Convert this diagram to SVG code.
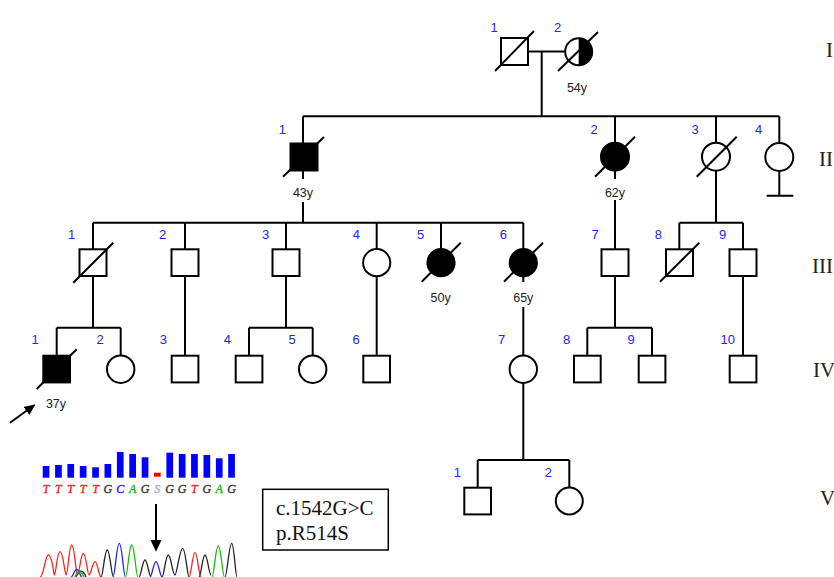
<svg xmlns="http://www.w3.org/2000/svg" width="834" height="577" viewBox="0 0 834 577">
<style>
.ln{stroke:#000;stroke-width:2;fill:none}
.o{fill:#fff;stroke:#000;stroke-width:2}
.f{fill:#000;stroke:#000;stroke-width:2}
.sl{stroke:#000;stroke-width:2}
.num{font-family:"Liberation Sans",Arial,sans-serif;font-size:13px;fill:#2525ee;text-anchor:middle}
.age{font-family:"Liberation Sans",Arial,sans-serif;font-size:12.5px;fill:#222;text-anchor:middle}
.gen{font-family:"Liberation Serif","Times New Roman",serif;font-size:21px;fill:#222}
.box{font-family:"Liberation Serif","Times New Roman",serif;font-size:21px;fill:#111}
.seq{font-family:"Liberation Serif","Times New Roman",serif;font-size:12px;font-style:italic;text-anchor:middle;stroke-width:0.35}
.bar{fill:#0000ff}
.tr{fill:none;stroke-width:1.3}
</style>
<defs>
<marker id="ah" markerWidth="11" markerHeight="10" refX="10" refY="5" orient="auto" markerUnits="userSpaceOnUse"><path d="M0,0 L11,5 L0,10 z" fill="#000"/></marker>
</defs>
<rect width="834" height="577" fill="#fff"/>

<g id="connectors" class="ln">
<path d="M528 51.5H565M541.7 51.5V116.3"/>
<path d="M303 116.3H779.3M303 116.3V143.5M615 116.3V143M716 116.3V143M779.3 116.3V143"/>
<path d="M779.3 171V195.7M766.7 195.7H793.3"/>
<path d="M303 170.7V179M303 202V222.7M93 222.7H523.3"/>
<path d="M93 222.7V249.3M185 222.7V249.3M286 222.7V249.3M376.7 222.7V249.3M441 222.7V249.3M523.3 222.7V249.3"/>
<path d="M615 170.7V179M615 200V249.3"/>
<path d="M716 170.7V222.7M679.3 222.7H743M679.3 222.7V249.3M743 222.7V249.3"/>
<path d="M93 276V327.7M56.7 327.7H120.7M56.7 327.7V355.7M120.7 327.7V355.5"/>
<path d="M185 276V355.7"/>
<path d="M286 276V327.7M249 327.7H312.7M249 327.7V355.7M312.7 327.7V355.5"/>
<path d="M376.7 276.2V355.7"/>
<path d="M523.3 276.2V282M523.3 307V355.5"/>
<path d="M615 276V327.7M587.3 327.7H652M587.3 327.7V355.7M652 327.7V355.7"/>
<path d="M743 276V355.7"/>
<path d="M523.3 382.7V460M477.7 460H569.3M477.7 460V487.7M569.3 460V487.5"/>
</g>

<g id="I-1"><rect class="o" x="501" y="38" width="27" height="27"/><line class="sl" x1="495" y1="71" x2="534" y2="31"/><text class="num" x="494" y="31.5">1</text></g>
<g id="I-2"><circle class="o" cx="578.7" cy="51.7" r="13.5"/><path d="M578.7 38.2A13.5 13.5 0 0 1 578.7 65.2Z" fill="#000"/><line class="sl" x1="558" y1="71" x2="598" y2="32"/><text class="num" x="557.7" y="31.5">2</text><text class="age" x="577" y="91.5">54y</text></g>

<g id="II-1"><rect class="f" x="290.5" y="143.5" width="27" height="27"/><line class="sl" x1="283" y1="176.7" x2="324" y2="137"/><text class="num" x="282.3" y="133.5">1</text><text class="age" x="303" y="196.5">43y</text></g>
<g id="II-2"><circle class="f" cx="615" cy="156.7" r="14"/><line class="sl" x1="595" y1="176.7" x2="635" y2="136.7"/><text class="num" x="594" y="133.5">2</text><text class="age" x="615" y="196.5">62y</text></g>
<g id="II-3"><circle class="o" cx="716" cy="156.7" r="14"/><line class="sl" x1="696.7" y1="176.7" x2="736.7" y2="136.7"/><text class="num" x="695" y="133.5">3</text></g>
<g id="II-4"><circle class="o" cx="779.3" cy="157" r="14"/><text class="num" x="758.7" y="133.5">4</text></g>

<g id="III-1"><rect class="o" x="79.5" y="249.3" width="27" height="26.7"/><line class="sl" x1="73.3" y1="282.7" x2="113.3" y2="242.7"/><text class="num" x="71.7" y="238.5">1</text></g>
<g id="III-2"><rect class="o" x="171.5" y="249.3" width="27" height="26.7"/><text class="num" x="162.7" y="238.5">2</text></g>
<g id="III-3"><rect class="o" x="272.5" y="249.3" width="27" height="26.7"/><text class="num" x="265.7" y="238.5">3</text></g>
<g id="III-4"><circle class="o" cx="376.7" cy="262.7" r="13.6"/><text class="num" x="356.3" y="238.5">4</text></g>
<g id="III-5"><circle class="f" cx="441" cy="262.7" r="13.6"/><line class="sl" x1="421.7" y1="281.7" x2="460.7" y2="242.7"/><text class="num" x="420.7" y="238.5">5</text><text class="age" x="440.7" y="301.5">50y</text></g>
<g id="III-6"><circle class="f" cx="523.3" cy="262.7" r="13.6"/><line class="sl" x1="504" y1="281.7" x2="543" y2="242.7"/><text class="num" x="503.3" y="238.5">6</text><text class="age" x="523.3" y="301.5">65y</text></g>
<g id="III-7"><rect class="o" x="601.5" y="249.3" width="27" height="26.7"/><text class="num" x="595" y="238.5">7</text></g>
<g id="III-8"><rect class="o" x="666" y="249.3" width="27" height="26.7"/><line class="sl" x1="660" y1="281.7" x2="699.3" y2="242.7"/><text class="num" x="658.3" y="238.5">8</text></g>
<g id="III-9"><rect class="o" x="729.5" y="249.3" width="27" height="26.7"/><text class="num" x="722.7" y="238.5">9</text></g>

<g id="IV-1"><rect class="f" x="43.3" y="355.7" width="26.7" height="26.7"/><line class="sl" x1="36.7" y1="389" x2="76.7" y2="349.3"/><text class="num" x="35" y="344">1</text><text class="age" x="56" y="408">37y</text><line class="sl" x1="10" y1="422.7" x2="34.5" y2="405" marker-end="url(#ah)"/></g>
<g id="IV-2"><circle class="o" cx="120.7" cy="369.2" r="13.7"/><text class="num" x="100" y="344">2</text></g>
<g id="IV-3"><rect class="o" x="171.7" y="355.7" width="26.7" height="26.7"/><text class="num" x="163.3" y="344">3</text></g>
<g id="IV-4"><rect class="o" x="235.7" y="355.7" width="26.7" height="26.7"/><text class="num" x="227.3" y="344">4</text></g>
<g id="IV-5"><circle class="o" cx="312.7" cy="369.2" r="13.7"/><text class="num" x="292" y="344">5</text></g>
<g id="IV-6"><rect class="o" x="363.3" y="355.7" width="26.7" height="26.7"/><text class="num" x="356" y="344">6</text></g>
<g id="IV-7"><circle class="o" cx="523.3" cy="369.2" r="13.7"/><text class="num" x="501.7" y="344">7</text></g>
<g id="IV-8"><rect class="o" x="574" y="355.7" width="26.7" height="26.7"/><text class="num" x="566.7" y="344">8</text></g>
<g id="IV-9"><rect class="o" x="638.7" y="355.7" width="26.7" height="26.7"/><text class="num" x="631" y="344">9</text></g>
<g id="IV-10"><rect class="o" x="729.7" y="355.7" width="26.7" height="26.7"/><text class="num" x="727.7" y="344">10</text></g>

<g id="V-1"><rect class="o" x="464.3" y="487.7" width="26.7" height="26.7"/><text class="num" x="457.3" y="477">1</text></g>
<g id="V-2"><circle class="o" cx="569.3" cy="501" r="13.5"/><text class="num" x="548.3" y="477">2</text></g>

<g id="generations" class="gen">
<text x="826" y="57">I</text>
<text x="819" y="166">II</text>
<text x="812" y="273">III</text>
<text x="813" y="377">IV</text>
<text x="820" y="505">V</text>
</g>

<g id="mutation-box">
<rect x="262.7" y="489.3" width="125.6" height="60.7" fill="#fff" stroke="#000" stroke-width="1.5"/>
<text class="box" x="276" y="515">c.1542G&gt;C</text>
<text class="box" x="276" y="540">p.R514S</text>
</g>

<g id="sequence">
<rect class="bar" x="42.7" y="466" width="6.7" height="11.7"/>
<rect class="bar" x="55.1" y="465" width="6.7" height="12.7"/>
<rect class="bar" x="67.4" y="464" width="6.7" height="13.7"/>
<rect class="bar" x="79.8" y="466" width="6.7" height="11.7"/>
<rect class="bar" x="92.2" y="467.3" width="6.7" height="10.4"/>
<rect class="bar" x="104.5" y="464" width="6.7" height="13.7"/>
<rect class="bar" x="116.9" y="452" width="6.7" height="25.7"/>
<rect class="bar" x="129.3" y="454" width="6.7" height="23.7"/>
<rect class="bar" x="141.7" y="457.3" width="6.7" height="20.4"/>
<rect x="154" y="472.7" width="6.7" height="4" fill="#ff0000"/>
<rect class="bar" x="166.4" y="452.7" width="6.7" height="25"/>
<rect class="bar" x="178.8" y="454" width="6.7" height="23.7"/>
<rect class="bar" x="191.1" y="454" width="6.7" height="23.7"/>
<rect class="bar" x="203.5" y="455" width="6.7" height="22.7"/>
<rect class="bar" x="215.9" y="458.3" width="6.7" height="19.4"/>
<rect class="bar" x="228.2" y="454" width="6.7" height="23.7"/>
<text class="seq" x="46" y="492.5" fill="#ff2020" stroke="#ff2020">T</text>
<text class="seq" x="58.4" y="492.5" fill="#ff2020" stroke="#ff2020">T</text>
<text class="seq" x="70.7" y="492.5" fill="#ff2020" stroke="#ff2020">T</text>
<text class="seq" x="83.1" y="492.5" fill="#ff2020" stroke="#ff2020">T</text>
<text class="seq" x="95.5" y="492.5" fill="#ff2020" stroke="#ff2020">T</text>
<text class="seq" x="107.9" y="492.5" fill="#333" stroke="#333">G</text>
<text class="seq" x="120.2" y="492.5" fill="#2020ff" stroke="#2020ff">C</text>
<text class="seq" x="132.6" y="492.5" fill="#10c010" stroke="#10c010">A</text>
<text class="seq" x="145" y="492.5" fill="#333" stroke="#333">G</text>
<text class="seq" x="157.3" y="492.5" fill="#a8a8cc" stroke="#a8a8cc">S</text>
<text class="seq" x="169.7" y="492.5" fill="#333" stroke="#333">G</text>
<text class="seq" x="182.1" y="492.5" fill="#333" stroke="#333">G</text>
<text class="seq" x="194.4" y="492.5" fill="#ff2020" stroke="#ff2020">T</text>
<text class="seq" x="206.8" y="492.5" fill="#333" stroke="#333">G</text>
<text class="seq" x="219.2" y="492.5" fill="#10c010" stroke="#10c010">A</text>
<text class="seq" x="231.5" y="492.5" fill="#333" stroke="#333">G</text>
<line x1="156" y1="504" x2="156" y2="541" stroke="#000" stroke-width="2"/>
<path d="M150.5 540L161.5 540L156 551.7Z" fill="#000"/>
<path class="tr" stroke="#ff2020" d="M40 577C44 577 45 555 48.3 555C52 555 54 575 54.2 575C56 575 57 551.7 60 551.7C63 551.7 65 575 66 575C68 575 69 545 71.7 545C74.5 545 76 575 77.5 575C79.5 575 80.5 553.3 83.3 553.3C86 553.3 87.5 575 89 575C91 575 92.5 561.7 95 561.7C97.5 561.7 99 577 101 577"/>
<path class="tr" stroke="#ff2020" d="M189 577C191 577 192.5 552.7 195 552.7C197.5 552.7 199 577 201 577"/>
<path class="tr" stroke="#222" d="M101 577C103 577 104.5 550 107.3 550C110 550 111.5 577 113.5 577"/>
<path class="tr" stroke="#222" d="M139 577C141 577 142.5 560 145 560C147.5 560 149 577 151 577"/>
<path class="tr" stroke="#222" d="M162 577C164 577 165.5 555 168.3 555C171 555 172.5 575 175 575C177 575 179.5 548.3 182.7 548.3C185.5 548.3 187.5 577 189 577"/>
<path class="tr" stroke="#222" d="M199 577C201 577 202.5 555 205 555C207.5 555 209 575 211 575"/>
<path class="tr" stroke="#222" d="M225 577C227 577 229 543.3 231.7 543.3C234 543.3 235.5 577 237 577"/>
<path class="tr" stroke="#222" d="M76 577C77 572 80 570 83 572C85 574 86 577 86 577"/>
<path class="tr" stroke="#2020ff" d="M113 577C115 577 116.5 543.3 119.3 543.3C122 543.3 123.5 577 125.5 577"/>
<path class="tr" stroke="#2020ff" d="M150 577C152 577 153.5 561.7 156 561.7C158.5 561.7 160 577 162 577"/>
<path class="tr" stroke="#2020ff" d="M71 577C73 577 74.5 569.3 76.7 569.3C79 569.3 80 577 82 577"/>
<path class="tr" stroke="#10c010" d="M125.5 577C127.5 577 129 545 131.7 545C134.5 545 136 577 138 577"/>
<path class="tr" stroke="#10c010" d="M212 577C214 577 215.5 546 218.3 546C221 546 222.5 577 224.5 577"/>
<path class="tr" stroke="#10c010" d="M75 577C76 574 78 572 80 572C82 572 83 575 84 577"/>
</g>
</svg>
